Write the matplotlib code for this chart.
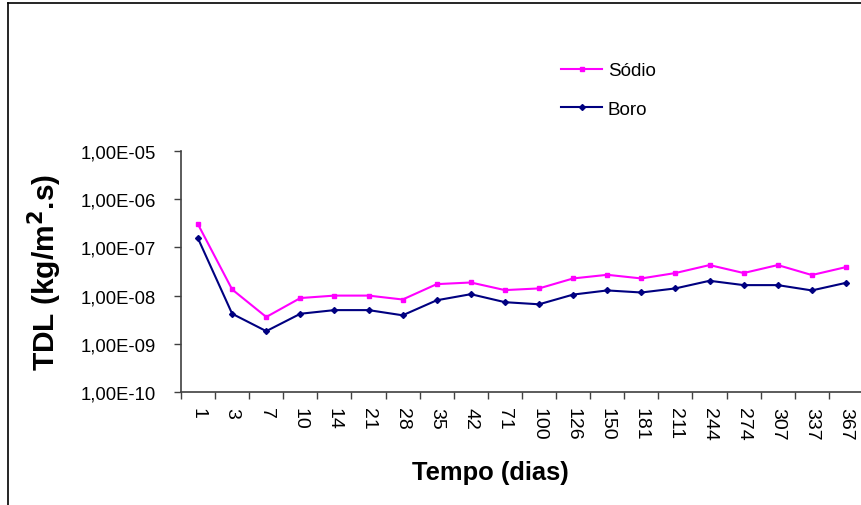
import numpy as np
import matplotlib
matplotlib.use("Agg")
import matplotlib.pyplot as plt
from matplotlib.lines import Line2D
from matplotlib.ticker import FixedLocator, NullFormatter

plt.rcParams['font.family'] = ['Liberation Sans', 'DejaVu Sans']

# dias de ensaio
dias = ["1", "3", "7", "10", "14", "21", "28", "35", "42", "71", "100",
        "126", "150", "181", "211", "244", "274", "307", "337", "367"]
# TDL (kg/m2.s)
sodio = [3.0e-7, 1.34e-8, 3.6e-9, 8.9e-9, 1.0e-8, 1.0e-8, 8.3e-9, 1.73e-8,
         1.87e-8, 1.30e-8, 1.41e-8, 2.27e-8, 2.7e-8, 2.27e-8, 2.94e-8,
         4.3e-8, 2.94e-8, 4.3e-8, 2.67e-8, 3.9e-8]
boro = [1.53e-7, 4.2e-9, 1.83e-9, 4.2e-9, 5.0e-9, 5.0e-9, 3.9e-9, 8.0e-9,
        1.07e-8, 7.3e-9, 6.6e-9, 1.05e-8, 1.28e-8, 1.16e-8, 1.41e-8,
        2.03e-8, 1.65e-8, 1.65e-8, 1.28e-8, 1.84e-8]
yticks = [1e-10, 1e-9, 1e-8, 1e-7, 1e-6, 1e-5]
ytick_labels = ["1,00E-10", "1,00E-09", "1,00E-08", "1,00E-07", "1,00E-06", "1,00E-05"]

fig = plt.figure(figsize=(8.62, 5.06), dpi=100)
ax = fig.add_axes([181/862, 1 - 393/506, 682/862, (393 - 152)/506])

x = np.arange(len(dias))
ax.plot(x, sodio, color="#FF00FF", lw=1.5, marker="s", ms=3, label="Sódio")
ax.plot(x, boro, color="#000080", lw=1.5, marker="D", ms=3, label="Boro")

ax.set_yscale("log")
ax.set_ylim(1e-10, 1e-5)
ax.set_yticks(yticks)
ax.set_yticklabels(ytick_labels, fontsize=13.3)
ax.yaxis.set_minor_locator(FixedLocator([]))
ax.yaxis.set_minor_formatter(NullFormatter())

ax.set_xlim(-0.5, len(dias) - 0.5)
ax.set_xticks(np.arange(len(dias) + 1) - 0.5)
ax.set_xticklabels([])
ax.set_xticks(x, minor=True)
ax.set_xticklabels(dias, minor=True, rotation=-90, fontsize=14)
ax.tick_params(axis="x", which="minor", length=0, pad=11)
ax.tick_params(axis="x", which="major", length=5, width=1, color="#404040")
ax.tick_params(axis="y", which="major", length=5, width=1, color="#404040", pad=13)

for s in ["top", "right"]:
    ax.spines[s].set_visible(False)
for s in ["left", "bottom"]:
    ax.spines[s].set_color("#404040")
    ax.spines[s].set_linewidth(1.2)

ax.set_ylabel("TDL (kg/m$\\mathbf{^2}$.s)", fontsize=21.5, fontweight="bold", labelpad=12)
ax.set_xlabel("Tempo (dias)", fontsize=18.4, fontweight="bold", labelpad=16)
ax.xaxis.set_label_coords((490 - 181) / 682, -68 / 241)
ax.xaxis.label.set_va("top")

ax.legend(loc="upper left", bbox_to_anchor=(561/862, 1 - 63/506), bbox_transform=fig.transFigure,
          frameon=False, borderaxespad=0, borderpad=0,
          fontsize=13.5, handlelength=2.2, labelspacing=1.15, handletextpad=0.3)

# moldura do grafico
fig.add_artist(Line2D([8/862, 8/862], [0, 1 - 4/506], color="black", lw=1.2))
fig.add_artist(Line2D([8/862, 1], [1 - 4/506, 1 - 4/506], color="black", lw=1.2))

fig.savefig("out.png", dpi=100)
